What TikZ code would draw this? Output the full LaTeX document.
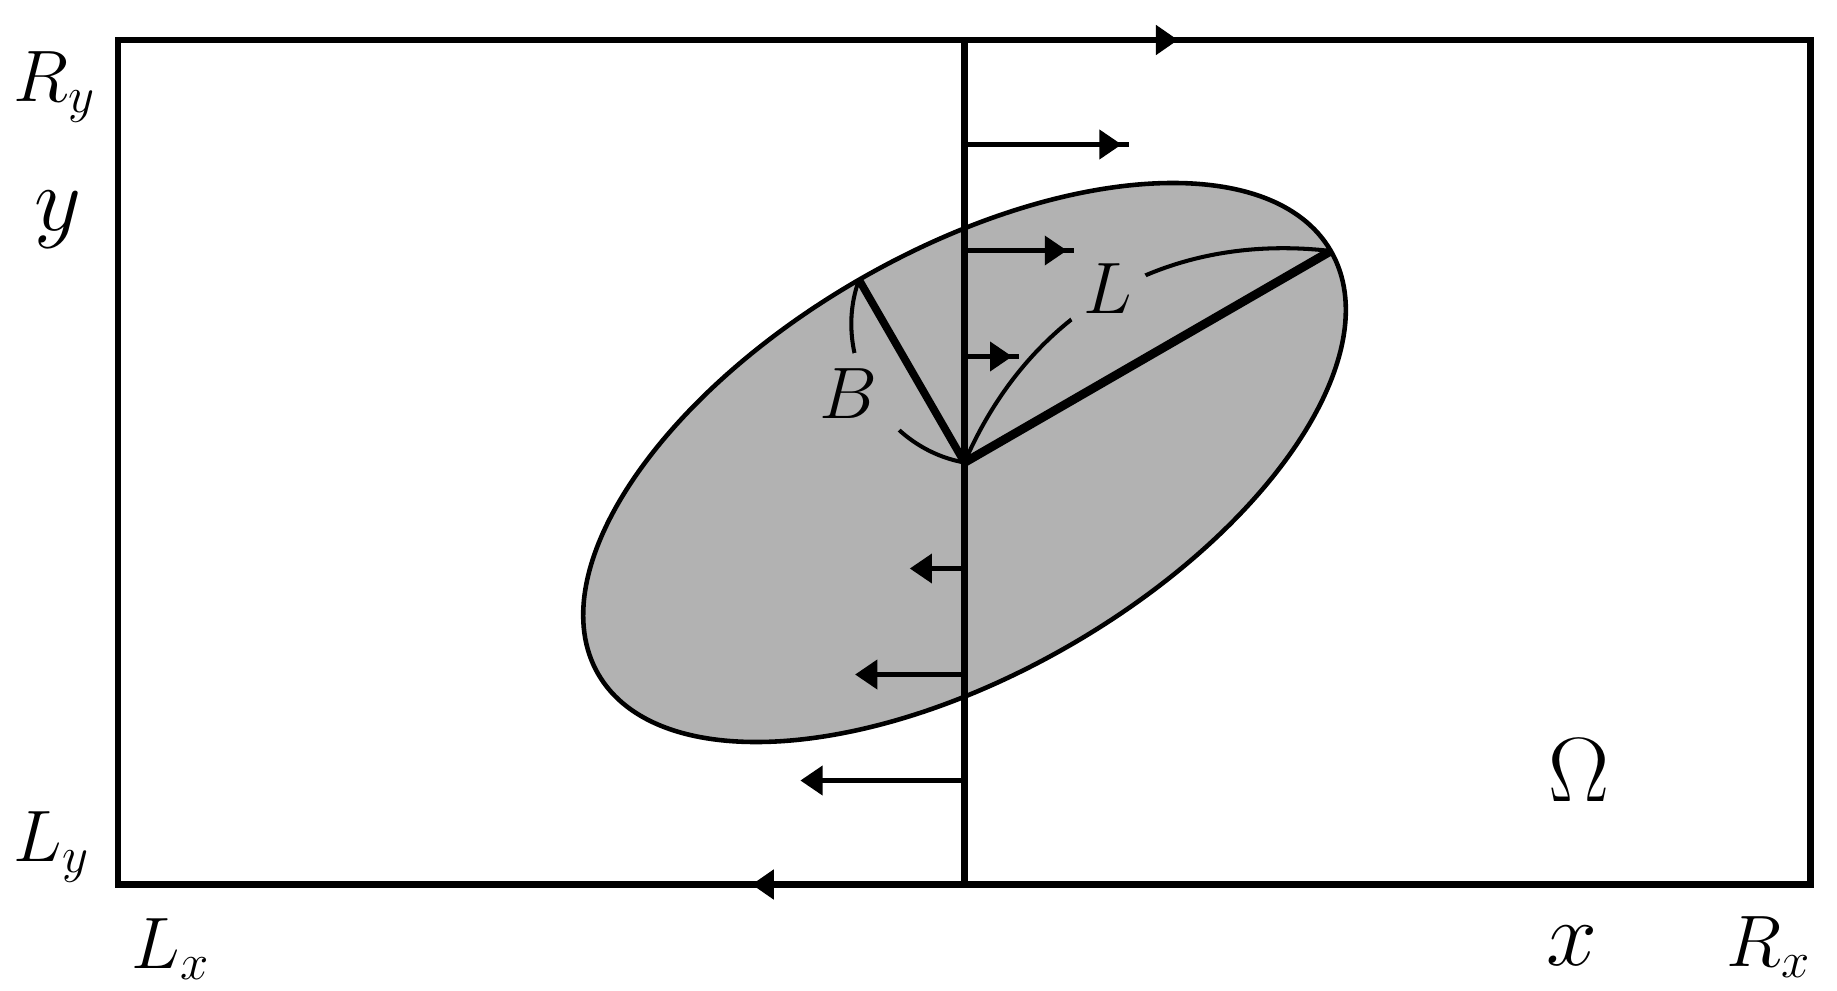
\documentclass[tikz,border=0pt]{standalone}
\usetikzlibrary{arrows.meta}
\definecolor{ellgray}{gray}{0.7}
\begin{document}
\begin{tikzpicture}[x=0.01cm,y=0.01cm,
  edge/.style={line width=1.8pt},
  flow/.style={line width=1.25pt},
  tipped/.style={-{Triangle[length=6.3pt,width=8.2pt]}},
  outline/.style={line width=1.3pt},
  arcline/.style={line width=1.15pt},
  axislabel/.style={inner sep=0pt, font=\huge},
  biglabel/.style={inner sep=0pt, font=\Huge, scale=1.045, transform shape},
]
\useasboundingbox (0,0) rectangle (1837,990);
% key points
\coordinate (SW) at (118,105.5);
\coordinate (NE) at (1810.5,950);
\coordinate (C) at (964.5,527.5);
\coordinate (Top) at (964.5,950);
\coordinate (Bot) at (964.5,105.5);
\coordinate (Lend) at (1330.8,739);
\coordinate (Bend) at (859,710.2);
% ellipse
\filldraw[fill=ellgray, outline, rotate around={30:(C)}] (C) ellipse [x radius=423, y radius=211];
% arcs with gaps for the labels
\draw[arcline] (Lend) to[bend right=36.6] (C);
\draw[arcline] (Bend) to[bend right=50] (C);
\fill[ellgray] (1108.5,692.5) circle [radius=43];
\fill[ellgray] (866.6,592.5) circle [radius=46];
% domain
\draw[edge] (SW) rectangle (NE);
\draw[edge] (Bot) -- (Top);
\coordinate (TopTip) at (1178,950);
\coordinate (TopTail) at (1100,950);
\draw[edge,tipped] (TopTail) -- (TopTip);
\coordinate (BotTip) at (751.7,105.5);
\coordinate (BotTail) at (830,105.5);
\draw[edge,tipped] (BotTail) -- (BotTip);
% shear flow arrows
\foreach \k/\yr/\yl in {1/633.5/421.5, 2/739.5/315.5, 3/845.5/209.5} {
  \coordinate (rs\k) at (964.5,\yr);
  \coordinate (re\k) at ({964.5+54.7*\k},\yr);
  \coordinate (rt\k) at ({964.5+54.7*\k-7},\yr);
  \coordinate (ls\k) at (964.5,\yl);
  \coordinate (le\k) at ({964.5-54.7*\k},\yl);
  \draw[flow] (rs\k) -- (re\k);
  \draw[flow,tipped] (rs\k) -- (rt\k);
  \draw[flow,tipped] (ls\k) -- (le\k);
}
% axes of the ellipse
\draw[line width=2.5pt] (C) -- (Lend);
\draw[line width=2.2pt] (C) -- (Bend);
% labels
\node[axislabel, anchor=base west] (Ry) at (13,888.3) {$R_y$};
\node[biglabel, anchor=base] (ylab) at (58,759) {$y$};
\node[axislabel, anchor=base west] (Ly) at (13,128.3) {$L_y$};
\node[axislabel, anchor=base west] (Lx) at (131,21.7) {$L_x$};
\node[biglabel, anchor=base] (xlab) at (1571.7,25) {$x$};
\node[axislabel, anchor=base west] (Rx) at (1726,23.3) {$R_x$};
\node[biglabel, anchor=base] (Om) at (1579.3,188.3) {$\Omega$};
\node[axislabel, anchor=base] (Blab) at (848.3,572) {$B$};
\node[axislabel, anchor=base] (Llab) at (1108,676.7) {$L$};
\end{tikzpicture}
\end{document}
